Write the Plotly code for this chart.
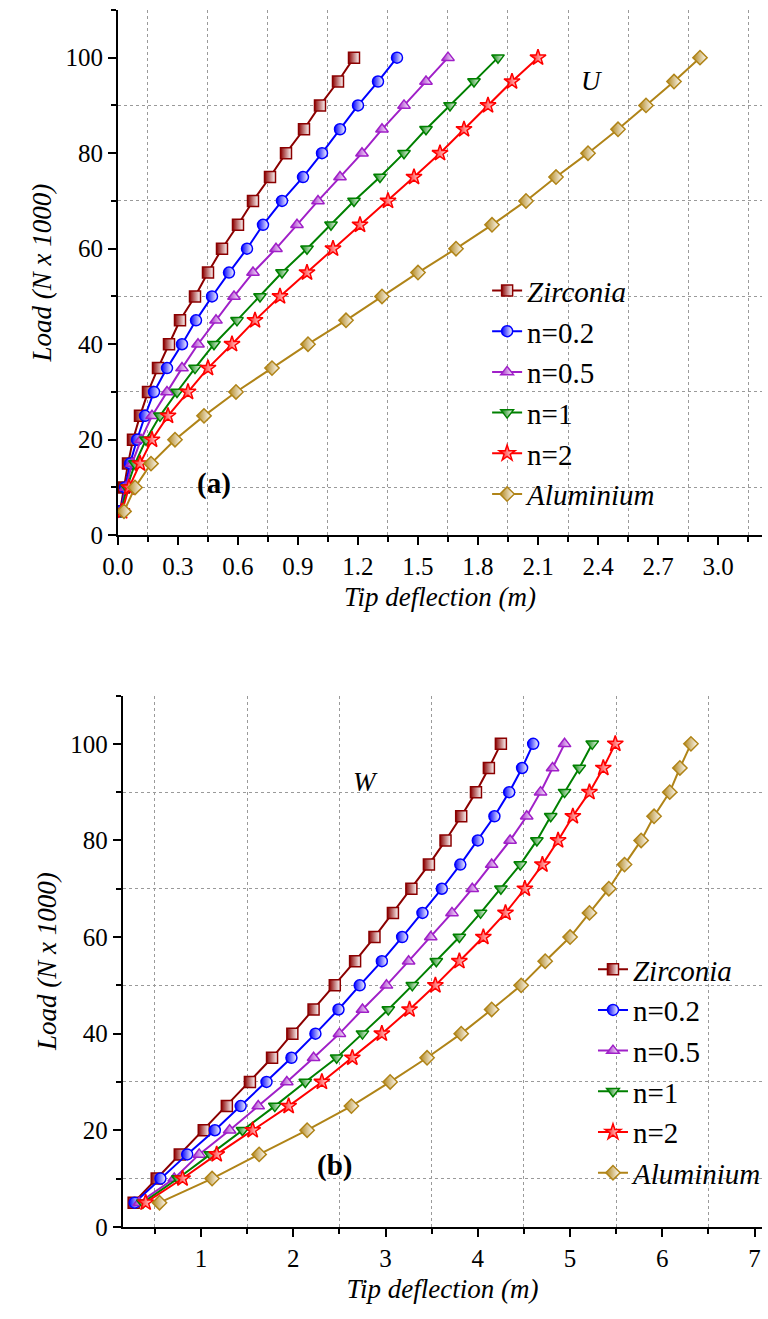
import plotly.graph_objects as go

# Applied load (kN) at each computed step
load = [5, 10, 15, 20, 25, 30, 35, 40, 45, 50, 55, 60, 65, 70, 75, 80, 85, 90, 95, 100]

series_names = ["<i>Zirconia</i>", "n=0.2", "n=0.5", "n=1", "n=2", "<i>Aluminium</i>"]

# (a) axial tip deflection U (m)
u_zirconia = [0.01, 0.03, 0.05, 0.075, 0.11, 0.15, 0.20, 0.255, 0.31, 0.385, 0.45, 0.52, 0.60, 0.675, 0.76, 0.84, 0.93, 1.01, 1.10, 1.18]
u_n02 = [0.012, 0.035, 0.06, 0.095, 0.135, 0.18, 0.245, 0.32, 0.39, 0.47, 0.555, 0.645, 0.725, 0.82, 0.925, 1.02, 1.11, 1.20, 1.30, 1.395]
u_n05 = [0.015, 0.04, 0.07, 0.115, 0.17, 0.245, 0.32, 0.40, 0.49, 0.58, 0.675, 0.79, 0.895, 1.00, 1.11, 1.22, 1.32, 1.43, 1.54, 1.65]
u_n1 = [0.015, 0.045, 0.085, 0.14, 0.21, 0.295, 0.385, 0.48, 0.595, 0.71, 0.82, 0.945, 1.065, 1.18, 1.31, 1.43, 1.54, 1.66, 1.78, 1.90]
u_n2 = [0.02, 0.055, 0.11, 0.17, 0.25, 0.35, 0.45, 0.57, 0.685, 0.81, 0.945, 1.075, 1.21, 1.35, 1.48, 1.61, 1.73, 1.85, 1.97, 2.10]
u_aluminium = [0.03, 0.085, 0.165, 0.285, 0.43, 0.59, 0.77, 0.95, 1.14, 1.32, 1.50, 1.69, 1.87, 2.04, 2.19, 2.35, 2.50, 2.64, 2.78, 2.91]

# (b) transverse tip deflection W (m)
w_zirconia = [0.27, 0.52, 0.77, 1.03, 1.28, 1.53, 1.77, 1.99, 2.22, 2.45, 2.67, 2.88, 3.08, 3.28, 3.47, 3.65, 3.82, 3.98, 4.12, 4.25]
w_n02 = [0.28, 0.56, 0.85, 1.15, 1.43, 1.71, 1.98, 2.24, 2.49, 2.72, 2.96, 3.18, 3.40, 3.61, 3.81, 4.00, 4.18, 4.34, 4.48, 4.60]
w_n05 = [0.33, 0.71, 0.98, 1.31, 1.62, 1.93, 2.22, 2.50, 2.75, 3.01, 3.25, 3.49, 3.72, 3.94, 4.15, 4.35, 4.53, 4.68, 4.81, 4.94]
w_n1 = [0.37, 0.75, 1.10, 1.45, 1.80, 2.13, 2.47, 2.75, 3.03, 3.29, 3.55, 3.80, 4.03, 4.25, 4.46, 4.64, 4.79, 4.94, 5.10, 5.24]
w_n2 = [0.40, 0.80, 1.17, 1.56, 1.95, 2.31, 2.64, 2.96, 3.26, 3.54, 3.80, 4.06, 4.30, 4.51, 4.70, 4.87, 5.03, 5.21, 5.36, 5.49]
w_aluminium = [0.55, 1.12, 1.63, 2.15, 2.63, 3.05, 3.45, 3.82, 4.15, 4.47, 4.73, 5.00, 5.21, 5.42, 5.59, 5.77, 5.91, 6.08, 6.19, 6.31]

u_series = [u_zirconia, u_n02, u_n05, u_n1, u_n2, u_aluminium]
w_series = [w_zirconia, w_n02, w_n05, w_n1, w_n2, w_aluminium]

colors = ["#8B0000", "#0000FF", "#A020C8", "#008000", "#FF0000", "#B08418"]
symbols = ["square", "circle", "triangle-up", "triangle-down", "star", "diamond"]

SERIF = "Liberation Serif"
W, H = 768, 1319

fig = go.Figure()

for data, xa, ya, leg in [(u_series, "x", "y", "legend"),
                          (w_series, "x2", "y2", "legend2")]:
    for name, xs, c, sym in zip(series_names, data, colors, symbols):
        fig.add_trace(go.Scatter(
            x=xs, y=load, xaxis=xa, yaxis=ya, name=name, legend=leg,
            legendgroup=f"{leg}-{name}",
            mode="lines+markers",
            line=dict(color=c, width=2),
            marker=dict(symbol=sym, size=11 if sym != "star" else 12, color=c,
                        gradient=dict(type="horizontal", color="white"),
                        line=dict(color=c, width=1.5)),
        ))

axis_common = dict(
    showline=True, linecolor="black", linewidth=2, mirror=False,
    ticks="outside", ticklen=8, tickwidth=2, tickcolor="black",
    showgrid=False, zeroline=False,
    tickfont=dict(family=SERIF, size=25, color="black"),
)
minor_grid = dict(ticks="outside", ticklen=5, tickwidth=2, tickcolor="black",
                  showgrid=True, gridcolor="#9a9a9a", griddash="dot", gridwidth=1)

title_font = dict(family=SERIF, size=27, color="black")
legend_font = dict(family=SERIF, size=29, color="black")

fig.update_layout(
    width=W, height=H,
    margin=dict(l=0, r=0, t=0, b=0),
    paper_bgcolor="white", plot_bgcolor="white",
    font=dict(family=SERIF, color="black"),
    showlegend=True,
    xaxis=dict(axis_common, domain=[105 / W, 1], range=[0, 3.22], anchor="y",
               tick0=0, dtick=0.3, tickformat=".1f",
               minor=dict(minor_grid, dtick=0.15),
               title=dict(text="<i>Tip deflection (m)</i>", font=title_font, standoff=8)),
    yaxis=dict(axis_common, domain=[1 - 541 / H, 1 - 10 / H], range=[0, 110], anchor="x",
               tick0=0, dtick=20, minor=dict(minor_grid, dtick=10),
               title=dict(text="<i>Load (N x 1000)</i>", font=title_font, standoff=6)),
    xaxis2=dict(axis_common, domain=[110 / W, 1], range=[0.153, 7.08], anchor="y2",
                tick0=0, dtick=1, minor=dict(minor_grid, dtick=0.5),
                title=dict(text="<i>Tip deflection (m)</i>", font=title_font, standoff=8)),
    yaxis2=dict(axis_common, domain=[1 - 1240 / H, 1 - 703 / H], range=[0, 110], anchor="x2",
                tick0=0, dtick=20, minor=dict(minor_grid, dtick=10),
                title=dict(text="<i>Load (N x 1000)</i>", font=title_font, standoff=6)),
    legend=dict(x=485 / W, y=1 - 268 / H, xanchor="left", yanchor="top",
                font=legend_font, bgcolor="rgba(0,0,0,0)", tracegroupgap=0, itemwidth=30),
    legend2=dict(x=594 / W, y=1 - 954 / H, xanchor="left", yanchor="top",
                 font=legend_font, bgcolor="rgba(0,0,0,0)", tracegroupgap=0, itemwidth=30),
    annotations=[
        dict(text="<i>U</i>", x=0.755, y=0.897, xref="x domain", yref="y domain",
             showarrow=False, font=dict(family=SERIF, size=27, color="black")),
        dict(text="<b>(a)</b>", x=0.12, y=0.064, xref="x domain", yref="y domain",
             showarrow=False, font=dict(family=SERIF, size=29, color="black")),
        dict(text="<i>W</i>", x=0.38, y=0.87, xref="x2 domain", yref="y2 domain",
             showarrow=False, font=dict(family=SERIF, size=27, color="black")),
        dict(text="<b>(b)</b>", x=0.30, y=0.08, xref="x2 domain", yref="y2 domain",
             showarrow=False, font=dict(family=SERIF, size=29, color="black")),
    ],
)

fig.write_html("out.html")
